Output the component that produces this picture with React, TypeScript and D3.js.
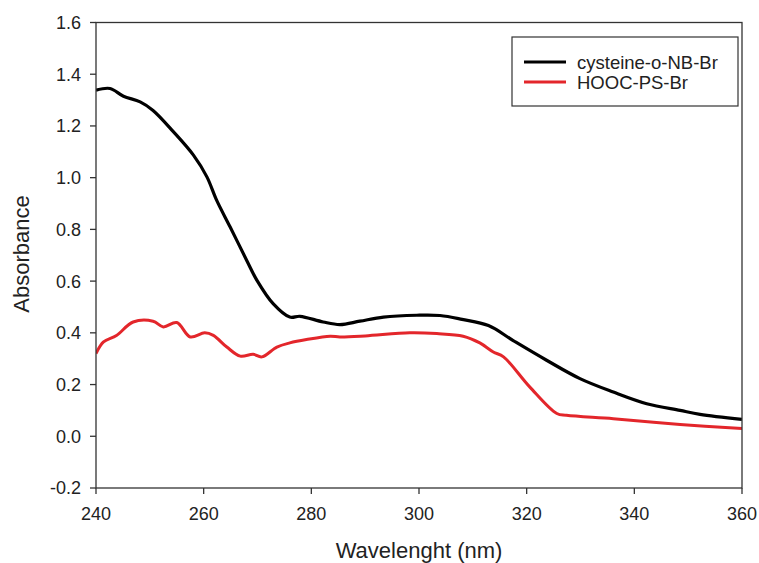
import React from "react";
import * as d3 from "d3";

const cysX = [240, 242.6, 245.1, 248.2, 250.6, 254.4, 258.1, 260.6, 262.4, 264.9, 268, 269.9, 272.9, 276, 277.9, 282.2, 285.3, 289, 293.4, 299.6, 303.9, 308, 312.9, 317.5, 323.7, 329.9, 336.1, 342.3, 348.5, 352.2, 360];
const cysY = [1.338, 1.345, 1.315, 1.293, 1.26, 1.177, 1.087, 1.003, 0.913, 0.81, 0.68, 0.603, 0.513, 0.461, 0.464, 0.442, 0.432, 0.445, 0.461, 0.468, 0.467, 0.452, 0.428, 0.37, 0.294, 0.223, 0.171, 0.126, 0.1, 0.085, 0.065];

const hoocX = [240, 241.4, 243.8, 246.9, 250.6, 252.5, 255, 257.5, 260.2, 261.8, 264.3, 266.8, 269.2, 270.8, 273.6, 276, 279.1, 283.5, 285.3, 290, 298.3, 303.3, 308.2, 311.3, 313.8, 315.7, 320.6, 325.6, 327.4, 336.1, 348.5, 360];
const hoocY = [0.32, 0.365, 0.39, 0.442, 0.445, 0.423, 0.44, 0.384, 0.4, 0.39, 0.345, 0.31, 0.317, 0.307, 0.345, 0.361, 0.374, 0.387, 0.384, 0.388, 0.4, 0.397, 0.387, 0.361, 0.326, 0.307, 0.19, 0.088, 0.081, 0.068, 0.046, 0.03];

const xTicks = [240, 260, 280, 300, 320, 340, 360];
const yTicks = [-0.2, 0.0, 0.2, 0.4, 0.6, 0.8, 1.0, 1.2, 1.4, 1.6];
const seriesNames = ["cysteine-o-NB-Br", "HOOC-PS-Br"];
const seriesColors = ["#000000", "#e3262b"];

export default function App() {
  const W = 759, H = 563;
  const left = 96, right = 742, top = 22.5, bottom = 488;
  const x = d3.scaleLinear().domain([240, 360]).range([left, right]);
  const y = d3.scaleLinear().domain([-0.2, 1.6]).range([bottom, top]);
  const line = d3.line<[number, number]>().x(d => x(d[0])).y(d => y(d[1])).curve(d3.curveCatmullRom.alpha(0.5));
  const cys = cysX.map((v, i) => [v, cysY[i]] as [number, number]);
  const hooc = hoocX.map((v, i) => [v, hoocY[i]] as [number, number]);
  const font = "'Liberation Sans', Arial, sans-serif";
  const axisColor = "#333";
  return (
    <svg width={W} height={H} style={{ position: "absolute", left: 0, top: 0, background: "#fff" }} fontFamily={font}>
      <rect x={0} y={0} width={W} height={H} fill="#fff" />
      <defs>
        <clipPath id="plot"><rect x={left} y={top} width={right - left} height={bottom - top} /></clipPath>
      </defs>
      <g clipPath="url(#plot)">
        <path d={line(hooc) || ""} fill="none" stroke={seriesColors[1]} strokeWidth={3} />
        <path d={line(cys) || ""} fill="none" stroke={seriesColors[0]} strokeWidth={3.2} />
      </g>
      <rect x={left} y={top} width={right - left} height={bottom - top} fill="none" stroke={axisColor} strokeWidth={1.3} />
      {yTicks.map(t => (
        <g key={"y" + t}>
          <line x1={left - 6} x2={left} y1={y(t)} y2={y(t)} stroke={axisColor} strokeWidth={1.3} />
          <text x={left - 15} y={y(t)} dy="0.36em" textAnchor="end" fontSize={18} fill="#222">{t.toFixed(1)}</text>
        </g>
      ))}
      {xTicks.map(t => (
        <g key={"x" + t}>
          <line x1={x(t)} x2={x(t)} y1={bottom} y2={bottom + 6} stroke={axisColor} strokeWidth={1.3} />
          <text x={x(t)} y={520} textAnchor="middle" fontSize={18} fill="#222">{t}</text>
        </g>
      ))}
      <text x={419} y={558} textAnchor="middle" fontSize={22} fill="#222">Wavelenght (nm)</text>
      <text transform={`translate(29,254) rotate(-90)`} textAnchor="middle" fontSize={22} fill="#222">Absorbance</text>
      <g>
        <rect x={512} y={37} width={226} height={69} fill="#fff" stroke={axisColor} strokeWidth={1.2} />
        {seriesNames.map((n, i) => (
          <g key={n}>
            <line x1={524} x2={566} y1={62 + i * 20} y2={62 + i * 20} stroke={seriesColors[i]} strokeWidth={3} />
            <text x={577} y={62 + i * 20} dy="0.36em" fontSize={18.5} fill="#222">{n}</text>
          </g>
        ))}
      </g>
    </svg>
  );
}
